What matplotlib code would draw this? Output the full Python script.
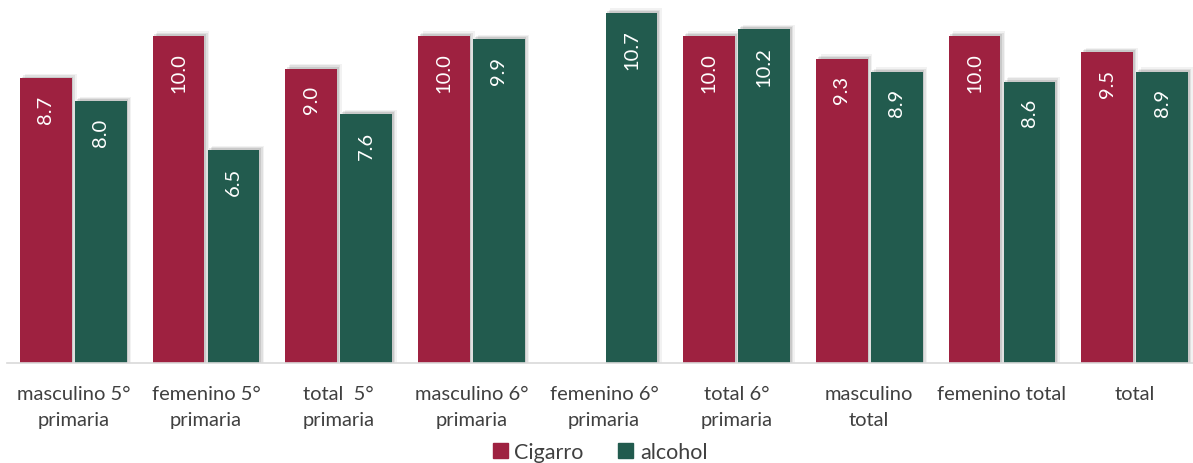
import numpy as np
import matplotlib.pyplot as plt
from matplotlib.patches import Patch

plt.rcParams['font.family'] = ['Lato', 'DejaVu Sans']

categorias = ["masculino 5°\nprimaria", "femenino 5°\nprimaria", "total  5°\nprimaria",
              "masculino 6°\nprimaria", "femenino 6°\nprimaria", "total 6°\nprimaria",
              "masculino\ntotal", "femenino total", "total"]
cigarro = [8.7, 10.0, 9.0, 10.0, np.nan, 10.0, 9.3, 10.0, 9.5]
alcohol = [8.0, 6.5, 7.6, 9.9, 10.7, 10.2, 8.9, 8.6, 8.9]

rojo = '#9E2140'
verde = '#225B4E'
gris = '#404040'

fig = plt.figure(figsize=(11.93, 4.64), dpi=100)
ax = fig.add_axes([7/1193, 1-364/464, 1186/1193, 364/464])

x = np.arange(len(categorias))
w = 0.39
off = 0.207

# sombras
for dx, dy, a in [(0.012, 0.06, 0.10), (0.024, 0.10, 0.07), (0.036, 0.14, 0.05)]:
    for vals, o in [(cigarro, -off), (alcohol, off)]:
        v = np.array(vals)
        ax.bar(x + o + dx, v + dy, w, color='black', alpha=a, linewidth=0, zorder=1)

b1 = ax.bar(x - off, cigarro, w, color=rojo, zorder=2)
b2 = ax.bar(x + off, alcohol, w, color=verde, zorder=2)

for vals, o in [(cigarro, -off), (alcohol, off)]:
    for i, v in enumerate(vals):
        if np.isnan(v):
            continue
        ax.text(x[i] + o, v - 0.5, f"{v:.1f}", rotation=90, color='white',
                ha='center', va='top', fontsize=14.5, zorder=3)

ax.set_xlim(-0.5, 8.44)
ax.set_ylim(0, 11.13)
ax.set_yticks([])
ax.set_xticks(x)
ax.set_xticklabels(categorias, fontsize=14.5, color=gris, linespacing=1.6)
ax.tick_params(axis='x', length=0, pad=16)
for s in ['top', 'right', 'left']:
    ax.spines[s].set_visible(False)
ax.spines['bottom'].set_color('#D9D9D9')
ax.spines['bottom'].set_linewidth(1.2)

handles = [Patch(color=rojo, label='Cigarro'), Patch(color=verde, label='alcohol')]
fig.legend(handles=handles, loc='center', bbox_to_anchor=(0.503, 11/464), ncol=2,
           frameon=False, fontsize=15.5, handlelength=0.7, handleheight=0.7,
           handletextpad=0.3, columnspacing=1.6, labelcolor=gris)

fig.savefig('out.png', dpi=100)
